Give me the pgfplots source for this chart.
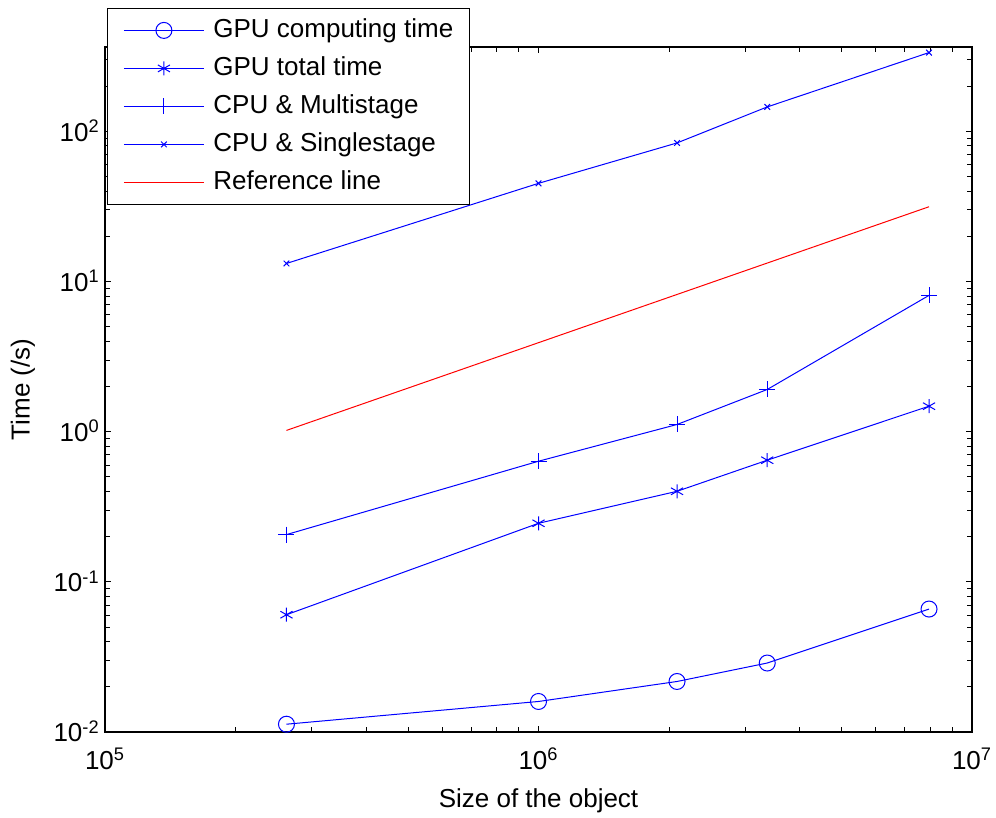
\documentclass[border=0pt]{standalone}
\usepackage{fontspec}
\setmainfont{Liberation Sans}
\usepackage{pgfplots}
\pgfplotsset{compat=1.18}

\newcommand{\lbl}{\fontsize{13}{15}\selectfont}

\begin{document}
\begin{tikzpicture}
\begin{axis}[
  name=ax,
  xmode=log, ymode=log,
  scale only axis,
  width=433.5pt, height=342.5pt,
  xmin=1e5, xmax=1e7,
  ymin=0.01, ymax=365,
  xtick={1e5,1e6,1e7},
  xticklabels={10\textsuperscript{5},10\textsuperscript{6},10\textsuperscript{7}},
  ytick={1e-2,1e-1,1,10,100},
  yticklabels={10\textsuperscript{-2},10\textsuperscript{-1},10\textsuperscript{0},10\textsuperscript{1},10\textsuperscript{2}},
  minor xtick={2e5,3e5,4e5,5e5,6e5,7e5,8e5,9e5,2e6,3e6,4e6,5e6,6e6,7e6,8e6,9e6},
  minor ytick={0.02,0.03,0.04,0.05,0.06,0.07,0.08,0.09,
               0.2,0.3,0.4,0.5,0.6,0.7,0.8,0.9,
               2,3,4,5,6,7,8,9,20,30,40,50,60,70,80,90,200,300},
  tick align=inside,
  major tick length=3pt, minor tick length=2.5pt,
  tick style={black, line width=0.5pt},
  axis line style={black, line width=0.7pt},
  xticklabel style={font=\lbl, anchor=north, inner sep=0pt, yshift=-7.75pt},
  yticklabel style={font=\lbl, anchor=base east, inner sep=0pt, xshift=-2.5pt, yshift=-5pt},
  xlabel={Size of the object},
  ylabel={Time (/s)},
  xlabel style={font=\lbl, at={(axis description cs:0.5,-0.1)}, anchor=center},
  ylabel style={font=\lbl, at={(axis description cs:-0.0946,0.5)}, anchor=center},
  legend cell align=left,
  legend image code/.code={\draw[mark repeat=2,mark phase=2,#1] plot coordinates {(0pt,0pt) (20pt,0pt) (40pt,0pt)};},
  legend style={font=\lbl, at={(axis description cs:0.0023,1.0569)}, anchor=north west,
    draw=black, fill=white, inner xsep=8pt, inner ysep=5pt, row sep=7pt, column sep=4.5pt,
    nodes={inner sep=0pt, text height=9.5pt, text depth=2.5pt}},
]
\addplot[blue, line width=0.5pt, mark=o, mark size=4pt] coordinates {
  (262144,0.01127) (1000000,0.01597) (2087000,0.0217) (3370000,0.0288) (7960000,0.0659)
};
\addlegendentry{GPU computing time}
\addplot[blue, line width=0.5pt, mark=asterisk, mark size=3.5pt] coordinates {
  (262144,0.0604) (1000000,0.2455) (2087000,0.401) (3370000,0.646) (7960000,1.479)
};
\addlegendentry{GPU total time}
\addplot[blue, line width=0.5pt, mark=+, mark size=4pt] coordinates {
  (262144,0.2064) (1000000,0.636) (2087000,1.117) (3370000,1.911) (7960000,8.09)
};
\addlegendentry{CPU \& Multistage}
\addplot[blue, line width=0.5pt, mark=x, mark size=2pt] coordinates {
  (262144,13.2) (1000000,45.1) (2087000,83.8) (3370000,145.6) (7960000,335)
};
\addlegendentry{CPU \& Singlestage}
\addplot[red, line width=0.5pt] coordinates {
  (262144,1.02) (7960000,31.5)
};
\addlegendentry{Reference line}
\end{axis}
\pgfresetboundingbox
\path ([shift={(-52.5pt,-43pt)}]ax.south west) rectangle ([shift={(12pt,23.5pt)}]ax.north east);
\end{tikzpicture}
\end{document}
